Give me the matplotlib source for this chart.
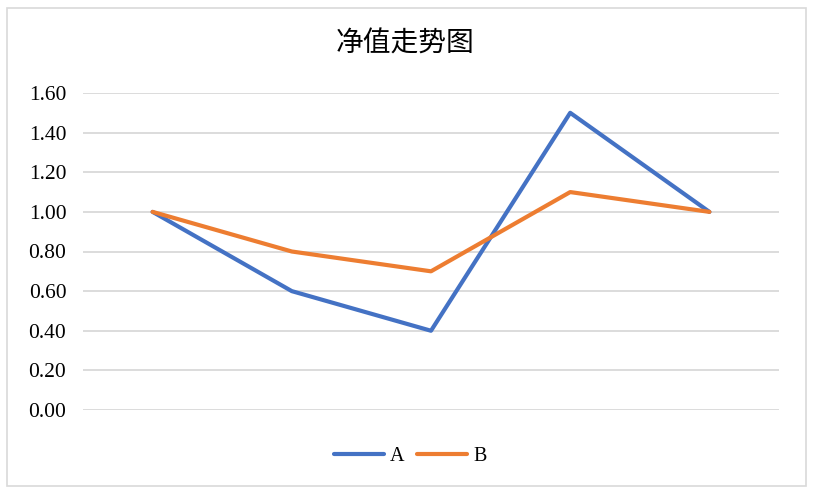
import matplotlib
matplotlib.use("Agg")
import matplotlib.pyplot as plt
from matplotlib.patches import Rectangle

plt.rcParams['font.family'] = ['Liberation Serif', 'Noto Sans CJK SC', 'DejaVu Sans']

# data
periods = [1, 2, 3, 4, 5]
net_a = [1.00, 0.60, 0.40, 1.50, 1.00]
net_b = [1.00, 0.80, 0.70, 1.10, 1.00]
yticks = [0.0, 0.2, 0.4, 0.6, 0.8, 1.0, 1.2, 1.4, 1.6]

fig = plt.figure(figsize=(8.14, 4.93), dpi=100)
ax = fig.add_axes([83/814, 83/493, 696/814, 317/493])

ax.plot(periods, net_a, color="#4472C4", lw=3, label="A", solid_capstyle="round", zorder=3)
ax.plot(periods, net_b, color="#ED7D31", lw=3, label="B", solid_capstyle="round", zorder=3)

ax.set_xlim(0.5, 5.5)
ax.set_ylim(0, 1.6)
ax.set_yticks(yticks)
ax.set_yticklabels(["%.2f" % v for v in yticks], fontsize=15.5)
ax.set_xticks([])
ax.tick_params(axis="y", length=0, pad=12)
ax.grid(axis="y", color="#D9D9D9", lw=1.3)
ax.set_axisbelow(True)
for s in ax.spines.values():
    s.set_visible(False)

fig.text(405/814, 1 - 44/493, "净值走势图", ha="center", va="center",
         fontsize=20, family=["Noto Sans CJK SC", "DejaVu Sans"])

fig.legend(loc="center", bbox_to_anchor=(410/814, 1 - 456/493), ncol=2,
           frameon=False, fontsize=14.5, handlelength=2.5, handletextpad=0.3,
           columnspacing=0.6)

fig.patches.append(Rectangle((7/814, 7/493), 799/814, 478/493, transform=fig.transFigure,
                             fill=False, edgecolor="#D9D9D9", lw=1.2))

fig.savefig("out.png", dpi=100)
